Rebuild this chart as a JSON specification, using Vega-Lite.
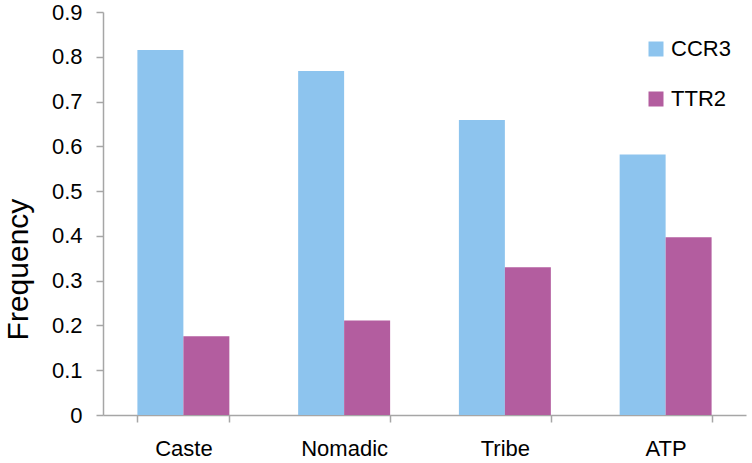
{
  "$schema": "https://vega.github.io/schema/vega-lite/v6.json",
  "autosize": "none",
  "padding": {"left": 103, "top": 12, "right": 6, "bottom": 48},
  "width": 643,
  "height": 403,
  "background": "white",
  "config": {
    "font": "Liberation Sans",
    "view": {"stroke": null}
  },
  "data": {
    "values": [
      {"group": "Caste", "gene": "CCR3", "freq": 0.815},
      {"group": "Caste", "gene": "TTR2", "freq": 0.176},
      {"group": "Nomadic", "gene": "CCR3", "freq": 0.768},
      {"group": "Nomadic", "gene": "TTR2", "freq": 0.211},
      {"group": "Tribe", "gene": "CCR3", "freq": 0.659},
      {"group": "Tribe", "gene": "TTR2", "freq": 0.330},
      {"group": "ATP", "gene": "CCR3", "freq": 0.582},
      {"group": "ATP", "gene": "TTR2", "freq": 0.397}
    ]
  },
  "mark": {"type": "bar"},
  "encoding": {
    "x": {
      "field": "group",
      "type": "nominal",
      "sort": ["Caste", "Nomadic", "Tribe", "ATP"],
      "scale": {"paddingInner": 0.428, "paddingOuter": 0.214},
      "axis": {
        "title": null,
        "labelAngle": 0,
        "labelFontSize": 22,
        "labelColor": "#000000",
        "labelPadding": 16,
        "tickBand": "extent",
        "tickSize": 7,
        "tickColor": "#A6A6A6",
        "domainColor": "#A6A6A6",
        "tickWidth": 1.5,
        "domainWidth": 1.5
      }
    },
    "xOffset": {"field": "gene", "type": "nominal", "sort": ["CCR3", "TTR2"], "scale": {"paddingInner": 0, "paddingOuter": 0}},
    "y": {
      "field": "freq",
      "type": "quantitative",
      "scale": {"domain": [0, 0.9]},
      "axis": {
        "title": "Frequency",
        "titleFontSize": 30,
        "titleFontWeight": "normal",
        "titleColor": "#000000",
        "titleX": -85,
        "titleY": 257,
        "titleAngle": -90,
        "titleAlign": "center",
        "titleBaseline": "middle",
        "values": [0, 0.1, 0.2, 0.3, 0.4, 0.5, 0.6, 0.7, 0.8, 0.9],
        "labelExpr": "datum.value == 0 ? '0' : format(datum.value, '.1f')",
        "labelFontSize": 22,
        "labelColor": "#000000",
        "labelPadding": 14,
        "tickSize": 7,
        "tickColor": "#A6A6A6",
        "domainColor": "#A6A6A6",
        "tickWidth": 1.5,
        "domainWidth": 1.5,
        "grid": false
      }
    },
    "color": {
      "field": "gene",
      "type": "nominal",
      "scale": {"domain": ["CCR3", "TTR2"], "range": ["#8DC4EE", "#B35D9F"]},
      "legend": {
        "title": null,
        "orient": "none",
        "legendX": 542,
        "legendY": 26,
        "symbolType": "square",
        "symbolSize": 225,
        "symbolStrokeWidth": 0,
        "labelFontSize": 22,
        "labelColor": "#000000",
        "labelOffset": 4,
        "rowPadding": 28
      }
    }
  }
}
